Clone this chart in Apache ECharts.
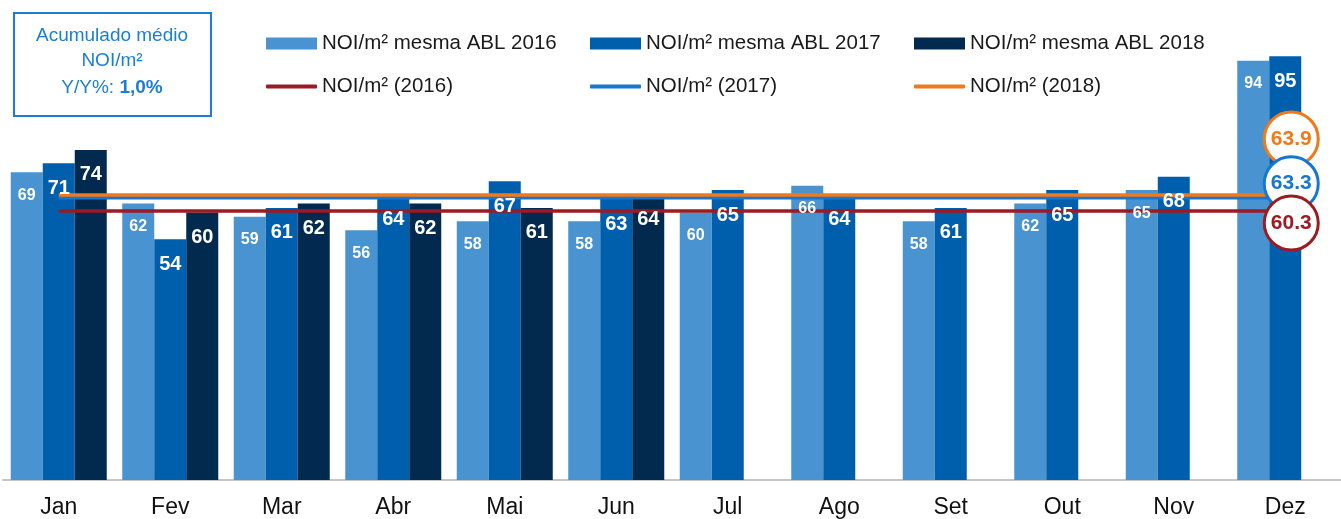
<!DOCTYPE html>
<html>
<head>
<meta charset="utf-8">
<script src="https://cdn.jsdelivr.net/npm/echarts@6/dist/echarts.min.js"></script>
<style>
  html, body { margin: 0; padding: 0; background: #fff; }
  #main { width: 1341px; height: 519px; }
</style>
</head>
<body>
<div id="main"></div>
<script>
var months = ['Jan', 'Fev', 'Mar', 'Abr', 'Mai', 'Jun', 'Jul', 'Ago', 'Set', 'Out', 'Nov', 'Dez'];
var noi2016 = [69, 62, 59, 56, 58, 58, 60, 66, 58, 62, 65, 94];
var noi2017 = [71, 54, 61, 64, 67, 63, 65, 64, 61, 65, 68, 95];
var noi2018 = [74, 60, 62, 62, 61, 64, null, null, null, null, null, null];
var avgNames = ['NOI/m² (2016)', 'NOI/m² (2017)', 'NOI/m² (2018)'];
var avgValues = [60.3, 63.3, 63.9];
var barNames = ['NOI/m² mesma ABL 2016', 'NOI/m² mesma ABL 2017', 'NOI/m² mesma ABL 2018'];

var font = '"Liberation Sans", Arial, Helvetica, sans-serif';
var barColors = ['#4994d0', '#005fad', '#012a4e'];
var lineColors = ['#9b1b22', '#1677d2', '#f07a1a'];
var circleOffsets = [[6, 12], [6, -14], [6, -56]];
var legendLeft = [266, 590, 914];

var chart = echarts.init(document.getElementById('main'));

// bars (no labels, drawn below the average lines)
function barSeries(i, data) {
  return {
    name: barNames[i],
    type: 'bar',
    data: data,
    barWidth: 32,
    barGap: '0%',
    z: 1,
    itemStyle: { color: barColors[i] }
  };
}

// transparent copy on a hidden axis, only to draw the value labels above the lines
function labelSeries(i, data, size) {
  return {
    name: 'lbl' + i,
    type: 'bar',
    xAxisIndex: 1,
    data: data,
    barWidth: 32,
    barGap: '0%',
    z: 8,
    silent: true,
    itemStyle: { color: 'rgba(0,0,0,0)' },
    label: {
      show: true,
      position: 'insideTop',
      distance: 15,
      color: '#fff',
      fontWeight: 'bold',
      fontSize: size,
      fontFamily: font
    }
  };
}

function avgSeries(i) {
  var v = avgValues[i];
  return {
    name: avgNames[i],
    type: 'line',
    z: 5,
    symbol: 'none',
    lineStyle: { color: lineColors[i], width: 3.5 },
    itemStyle: { color: lineColors[i] },
    data: [[months[0], v], [months[months.length - 1], v]]
  };
}

function circleSeries(i, z) {
  var v = avgValues[i];
  return {
    name: 'circ' + i,
    type: 'scatter',
    z: z,
    symbol: 'circle',
    symbolSize: 54,
    symbolOffset: circleOffsets[i],
    itemStyle: { color: '#fff', borderColor: lineColors[i], borderWidth: 3, opacity: 1 },
    label: {
      show: true,
      position: 'inside',
      formatter: v.toFixed(1),
      color: lineColors[i],
      fontWeight: 'bold',
      fontSize: 21,
      fontFamily: font
    },
    data: [[months[months.length - 1], v]]
  };
}

var legends = [];
for (var i = 0; i < 3; i++) {
  legends.push({
    data: [barNames[i]],
    left: legendLeft[i],
    top: 33,
    padding: 0,
    itemWidth: 51,
    itemHeight: 12,
    icon: 'rect',
    textStyle: { fontSize: 20.5, color: '#1a1a1a', fontFamily: font }
  });
  legends.push({
    data: [avgNames[i]],
    left: legendLeft[i],
    top: 76,
    padding: 0,
    itemWidth: 51,
    itemHeight: 4,
    icon: 'roundRect',
    textStyle: { fontSize: 20.5, color: '#1a1a1a', fontFamily: font }
  });
}

var boxText = { fill: '#1a7fd4', fontSize: 19, fontFamily: font, align: 'center', verticalAlign: 'middle' };

var option = {
  backgroundColor: '#ffffff',
  animation: false,
  grid: { left: 3, top: 34, width: 1348, height: 446 },
  legend: legends,
  xAxis: [{
    type: 'category',
    data: months,
    axisLine: { lineStyle: { color: '#c6c6c6', width: 2 } },
    axisTick: { show: false },
    axisLabel: { color: '#111', fontSize: 23, fontFamily: font, margin: 16 }
  }, {
    type: 'category',
    data: months,
    show: false
  }],
  yAxis: {
    type: 'value',
    min: 0,
    max: 100,
    show: false,
    splitLine: { show: false }
  },
  graphic: [{
    type: 'rect',
    left: 13,
    top: 12,
    shape: { width: 197, height: 103 },
    style: { fill: '#fff', stroke: '#1a7fd4', lineWidth: 2 }
  }, {
    type: 'text', x: 112, y: 36,
    style: Object.assign({ text: 'Acumulado médio' }, boxText)
  }, {
    type: 'text', x: 112, y: 61,
    style: Object.assign({ text: 'NOI/m²' }, boxText)
  }, {
    type: 'text', x: 112, y: 88,
    style: Object.assign({
      text: '{n|Y/Y%: }{b|1,0%}',
      rich: {
        n: { fontSize: 19, fill: '#1a7fd4', fontFamily: font },
        b: { fontSize: 19, fill: '#1a7fd4', fontWeight: 'bold', fontFamily: font }
      }
    }, boxText)
  }],
  series: [
    barSeries(0, noi2016),
    barSeries(1, noi2017),
    barSeries(2, noi2018),
    avgSeries(0),
    avgSeries(1),
    avgSeries(2),
    labelSeries(0, noi2016, 16),
    labelSeries(1, noi2017, 20),
    labelSeries(2, noi2018, 20),
    circleSeries(2, 10),
    circleSeries(1, 11),
    circleSeries(0, 12)
  ]
};

chart.setOption(option);
</script>
</body>
</html>
